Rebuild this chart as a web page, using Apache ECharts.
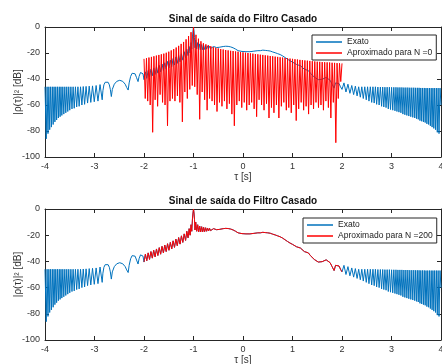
<!DOCTYPE html>
<html><head><meta charset="utf-8">
<script src="https://cdn.jsdelivr.net/npm/echarts@6/dist/echarts.min.js"></script>
<style>html,body{margin:0;padding:0;background:#fff}#c{width:442px;height:364px}</style>
</head><body><div id="c"></div>
<script>
const titleText = 'Sinal de saída do Filtro Casado';
const xName = 'τ [s]';
const yName = '|ρ(τ)|² [dB]';
const legendExato = 'Exato';
const legendN0 = 'Aproximado para N =0';
const legendN200 = 'Aproximado para N =200';

// Exact matched-filter output [tau, dB]
const exato = [
[-4.0,-46],[-3.975,-86],[-3.958,-46],[-3.94,-82],[-3.922,-46],[-3.905,-79],[-3.887,-46],[-3.87,-77],[-3.852,-46],[-3.835,-75],[-3.817,-46],[-3.8,-73],[-3.782,-46],[-3.765,-71.5],[-3.747,-46],[-3.73,-70],[-3.712,-46],[-3.695,-69],[-3.677,-46],[-3.66,-68],[-3.64,-46],[-3.62,-67],[-3.6,-46],[-3.58,-66],[-3.56,-46],[-3.54,-65],[-3.52,-46],[-3.5,-64],[-3.477,-46],[-3.455,-63],[-3.432,-46],[-3.41,-62.5],[-3.385,-46],[-3.36,-61.5],[-3.335,-46],[-3.31,-61],[-3.282,-46],[-3.255,-60],[-3.227,-45.8],[-3.2,-59.5],[-3.17,-45.7],[-3.14,-58.5],[-3.107,-45.5],[-3.075,-58],[-3.04,-45.3],[-3.005,-57.5],[-2.967,-45],[-2.93,-57],[-2.888,-44.3],[-2.845,-56],
[-2.83,-49],[-2.81,-44.5],[-2.785,-42.5],[-2.755,-41.8],[-2.725,-42.5],[-2.7,-44.5],[-2.68,-48],[-2.66,-53.5],
[-2.64,-48],[-2.6,-44],[-2.55,-41.8],[-2.49,-41],[-2.43,-41.8],[-2.38,-44],[-2.35,-46.5],[-2.32,-48.5],
[-2.3,-43],[-2.27,-38],[-2.24,-35.6],[-2.21,-35],[-2.18,-36],[-2.15,-39],[-2.12,-42],
[-2.1,-38],[-2.07,-35],[-2.04,-34.2],[-2.02,-36],[-2.0,-40.5],
[-1.972,-34.5],[-1.944,-39.5],[-1.916,-33.5],[-1.888,-38.5],[-1.86,-32.5],[-1.832,-37.5],[-1.804,-31.5],[-1.776,-36.5],[-1.748,-30.5],[-1.72,-35.5],[-1.692,-29.5],[-1.664,-34.5],[-1.636,-28.5],[-1.608,-33.5],[-1.58,-27.5],[-1.552,-32.5],[-1.524,-26.5],[-1.496,-31.5],[-1.468,-25.5],[-1.44,-30.5],[-1.412,-24.3],[-1.384,-29.3],[-1.356,-23],[-1.328,-28],[-1.3,-21.8],[-1.272,-26.8],[-1.244,-20.5],[-1.216,-25.5],[-1.188,-19],[-1.16,-24],[-1.135,-17],[-1.11,-22],[-1.088,-15],[-1.068,-20],[-1.05,-12],[-1.035,-17],[-1.02,-7],[-1.01,-3],[-1.0,0],[-0.99,-3],[-0.98,-8],[-0.97,-16],[-0.955,-10],[-0.935,-17],[-0.915,-12],[-0.895,-17.5],[-0.875,-13],[-0.855,-17.5],[-0.835,-13.5],[-0.815,-17.5],[-0.795,-14],[-0.775,-17.3],[-0.755,-14.3],[-0.735,-17],[-0.715,-14.5],[-0.695,-16.8],[-0.675,-14.8],[-0.655,-16.5],[-0.635,-15],[-0.615,-16.3],[-0.595,-15],[-0.575,-16],[-0.555,-15.2],[-0.535,-15.8],[-0.51,-15.2],[-0.48,-15.6],[-0.44,-15.2],[-0.4,-15],[-0.35,-14.8],[-0.3,-14.9],[-0.25,-15.3],[-0.2,-16],[-0.15,-17],[-0.1,-18.2],[-0.06,-19.2],[-0.02,-18.8],[0.02,-19.6],[0.06,-19],[0.1,-19.8],[0.14,-19],[0.18,-19.4],[0.22,-18.6],[0.26,-18.8],[0.3,-18.2],[0.35,-18.2],[0.4,-17.8],[0.45,-18],[0.5,-18.2],[0.55,-18.5],[0.6,-19.2],[0.65,-19.8],[0.7,-20.5],[0.75,-21.2],[0.8,-22.2],[0.85,-23.5],[0.9,-24.8],[0.95,-26],[1.0,-27],[1.04,-27.8],[1.08,-28.8],[1.12,-30.2],[1.16,-29.8],[1.2,-31],[1.24,-32.5],[1.28,-32.2],[1.32,-33.5],[1.36,-35.5],[1.4,-37],[1.44,-38.5],[1.48,-39.8],[1.52,-40.5],[1.56,-40.6],[1.6,-40.2],[1.64,-39.3],[1.68,-38.8],[1.72,-39.3],[1.76,-41],[1.8,-44],[1.84,-47],[1.87,-43],[1.9,-41.5],[1.94,-43.5],[1.97,-46],[2.0,-48],
[2.04,-43],[2.08,-50],[2.12,-44],[2.16,-51],[2.197,-45],[2.235,-52],[2.27,-45.5],[2.305,-53],[2.337,-46],[2.37,-54],[2.4,-46],[2.43,-55],[2.46,-46],[2.49,-56],[2.517,-46],[2.545,-57],[2.572,-46],[2.6,-58],[2.625,-46],[2.65,-58.5],[2.675,-46],[2.7,-59.5],[2.725,-46.2],[2.75,-60],[2.775,-46.2],[2.8,-61],[2.822,-46.2],[2.845,-61.5],[2.867,-46.3],[2.89,-62],[2.912,-46.3],[2.935,-63],[2.957,-46.3],[2.98,-63.5],[3.002,-46.4],[3.025,-64],[3.047,-46.4],[3.07,-64.5],[3.09,-46.4],[3.11,-65],[3.13,-46.5],[3.15,-65.5],[3.17,-46.5],[3.19,-66],[3.21,-46.5],[3.23,-67],[3.25,-46.6],[3.27,-67.5],[3.29,-46.6],[3.31,-68],[3.33,-46.6],[3.35,-68.5],[3.37,-46.7],[3.39,-69],[3.41,-46.7],[3.43,-69.5],[3.45,-46.7],[3.47,-70],[3.487,-46.8],[3.505,-70.5],[3.522,-46.8],[3.54,-71],[3.557,-46.8],[3.575,-72],[3.592,-46.9],[3.61,-72.5],[3.627,-46.9],[3.645,-73],[3.662,-46.9],[3.68,-73.5],[3.697,-47],[3.715,-74.5],[3.732,-47],[3.75,-75],[3.767,-47],[3.785,-76],[3.802,-47],[3.82,-77],[3.837,-47],[3.855,-78],[3.872,-47],[3.89,-79],[3.907,-47],[3.925,-81],[3.942,-47],[3.96,-82],[3.98,-47],[4.0,-60]
];

// Approximation N = 0 [tau, dB]
const aprox0 = [
[-2,-24.5],[-1.975,-55],[-1.95,-24],[-1.925,-57],[-1.9,-23.5],[-1.875,-60],[-1.85,-23],[-1.825,-81],[-1.8,-22.5],[-1.775,-56],[-1.75,-22],[-1.725,-61],[-1.7,-21.5],[-1.675,-52],[-1.65,-21],[-1.625,-58],[-1.6,-20.5],[-1.575,-60],[-1.55,-19.8],[-1.525,-76],[-1.5,-19],[-1.475,-57],[-1.45,-18],[-1.425,-55],[-1.4,-17],[-1.375,-57],[-1.35,-15.8],[-1.325,-53],[-1.3,-14.5],[-1.275,-58],[-1.25,-13],[-1.225,-73],[-1.2,-11.5],[-1.175,-50],[-1.15,-9.5],[-1.125,-55],[-1.1,-7],[-1.075,-48],[-1.05,-4],[-1.025,-45],[-1,0],[-0.975,-46],[-0.95,-6],[-0.925,-52],[-0.9,-9],[-0.875,-71],[-0.85,-11],[-0.825,-50],[-0.8,-12.5],[-0.775,-56],[-0.75,-13.3],[-0.725,-64],[-0.7,-14],[-0.675,-55],[-0.65,-14.8],[-0.625,-57],[-0.6,-15.5],[-0.575,-60],[-0.55,-16],[-0.525,-65],[-0.5,-16.5],[-0.475,-58],[-0.45,-17],[-0.425,-61],[-0.4,-17.3],[-0.375,-57],[-0.35,-17.7],[-0.325,-63],[-0.3,-18],[-0.275,-59],[-0.25,-18.3],[-0.225,-67],[-0.2,-18.5],[-0.175,-76],[-0.15,-18.8],[-0.125,-60],[-0.1,-19],[-0.075,-57],[-0.05,-19.3],[-0.025,-62],[0,-19.5],[0.025,-58],[0.05,-19.8],[0.075,-64],[0.1,-20],[0.125,-60],[0.15,-20.3],[0.175,-58],[0.2,-20.5],[0.225,-63],[0.25,-20.8],[0.275,-69],[0.3,-21],[0.325,-56],[0.35,-21.3],[0.375,-60],[0.4,-21.5],[0.425,-64],[0.45,-21.8],[0.475,-59],[0.5,-22],[0.525,-70],[0.55,-22.3],[0.575,-62],[0.6,-22.5],[0.625,-66],[0.65,-22.8],[0.675,-60],[0.7,-23],[0.725,-70],[0.75,-23.3],[0.775,-61],[0.8,-23.5],[0.825,-58],[0.85,-23.8],[0.875,-64],[0.9,-24],[0.925,-62],[0.95,-24.3],[0.975,-66],[1,-24.5],[1.025,-60],[1.05,-24.8],[1.075,-72],[1.1,-25],[1.125,-63],[1.15,-25.3],[1.175,-58],[1.2,-25.5],[1.225,-64],[1.25,-25.7],[1.275,-61],[1.3,-25.9],[1.325,-67],[1.35,-26.1],[1.375,-60],[1.4,-26.3],[1.425,-63],[1.45,-26.5],[1.475,-58],[1.5,-26.7],[1.525,-62],[1.55,-26.8],[1.575,-60],[1.6,-27],[1.625,-64],[1.65,-27.1],[1.675,-57],[1.7,-27.2],[1.725,-62],[1.75,-27.3],[1.775,-70],[1.8,-27.5],[1.825,-58],[1.85,-27.6],[1.875,-89],[1.9,-27.8],[1.925,-55],[1.95,-27.9],[1.975,-42],[2,-28]
];

// Approximation N = 200: follows the exact curve on [-2, 2]
const aprox200 = exato.filter(p => p[0] >= -2 && p[0] <= 2);

const FONT = 'Liberation Sans, Arial, Helvetica, sans-serif';
const AX = '#262626';
const BLUE = '#0072BD';
const RED = '#FF0000';

function xAxes(gi) {
  const base = {
    gridIndex: gi, type: 'value', min: -4, max: 4, interval: 1,
    axisLine: { onZero: false, lineStyle: { color: AX, width: 1 } },
    axisTick: { inside: true, length: 4, lineStyle: { color: AX } },
    splitLine: { show: false }
  };
  return [
    Object.assign({}, base, {
      position: 'bottom',
      axisLabel: { color: '#333', fontSize: 9, margin: 5, fontFamily: FONT, hideOverlap: false },
      name: xName, nameLocation: 'middle', nameGap: 14,
      nameTextStyle: { color: '#333', fontSize: 10, fontFamily: FONT }
    }),
    Object.assign({}, base, { position: 'top', axisLabel: { show: false } })
  ];
}
function yAxes(gi) {
  const base = {
    gridIndex: gi, type: 'value', min: -100, max: 0, interval: 20,
    axisLine: { onZero: false, lineStyle: { color: AX, width: 1 } },
    axisTick: { inside: true, length: 4, lineStyle: { color: AX } },
    splitLine: { show: false }
  };
  return [
    Object.assign({}, base, {
      position: 'left',
      axisLabel: { color: '#333', fontSize: 9, margin: 5, fontFamily: FONT },
      name: yName, nameLocation: 'middle', nameGap: 22, nameRotate: 90, nameMoveOverlap: false,
      nameTextStyle: { color: '#333', fontSize: 10, fontFamily: FONT }
    }),
    Object.assign({}, base, { position: 'right', axisLabel: { show: false } })
  ];
}
function legend(names, left, top) {
  return {
    data: names, orient: 'vertical', left: left, top: top,
    padding: [2, 4, 2, 4], itemGap: 1, itemWidth: 26, itemHeight: 1.5, icon: 'rect',
    borderColor: AX, borderWidth: 1, backgroundColor: '#fff', borderRadius: 0,
    textStyle: { fontSize: 8.5, color: '#222', fontFamily: FONT, lineHeight: 10 },
    selectedMode: false
  };
}
function line(name, data, color, xi, yi, w) {
  return {
    type: 'line', name: name, data: data, xAxisIndex: xi, yAxisIndex: yi,
    symbol: 'none', sampling: null, lineStyle: { color: color, width: w },
    itemStyle: { color: color }, animation: false, silent: true
  };
}

const chart = echarts.init(document.getElementById('c'), null, { renderer: 'canvas' });
chart.setOption({
  animation: false,
  backgroundColor: '#fff',
  title: [
    { text: titleText, left: 243, textAlign: 'center', top: 14, padding: 0,
      textStyle: { fontSize: 10, fontWeight: 'bold', color: '#111', fontFamily: FONT } },
    { text: titleText, left: 243, textAlign: 'center', top: 196, padding: 0,
      textStyle: { fontSize: 10, fontWeight: 'bold', color: '#111', fontFamily: FONT } }
  ],
  grid: [
    { left: 45, top: 27, width: 396, height: 130, outerBoundsMode: 'none', containLabel: false },
    { left: 45, top: 209, width: 396, height: 131, outerBoundsMode: 'none', containLabel: false }
  ],
  legend: [
    legend([legendExato, legendN0], 312, 35),
    legend([legendExato, legendN200], 303, 218)
  ],
  xAxis: xAxes(0).concat(xAxes(1)),
  yAxis: yAxes(0).concat(yAxes(1)),
  series: [
    line(legendExato, exato, BLUE, 0, 0, 1),
    line(legendN0, aprox0, RED, 0, 0, 1),
    line(legendExato, exato, BLUE, 2, 2, 1),
    line(legendN200, aprox200, RED, 2, 2, 1)
  ]
});
</script>
</body></html>
